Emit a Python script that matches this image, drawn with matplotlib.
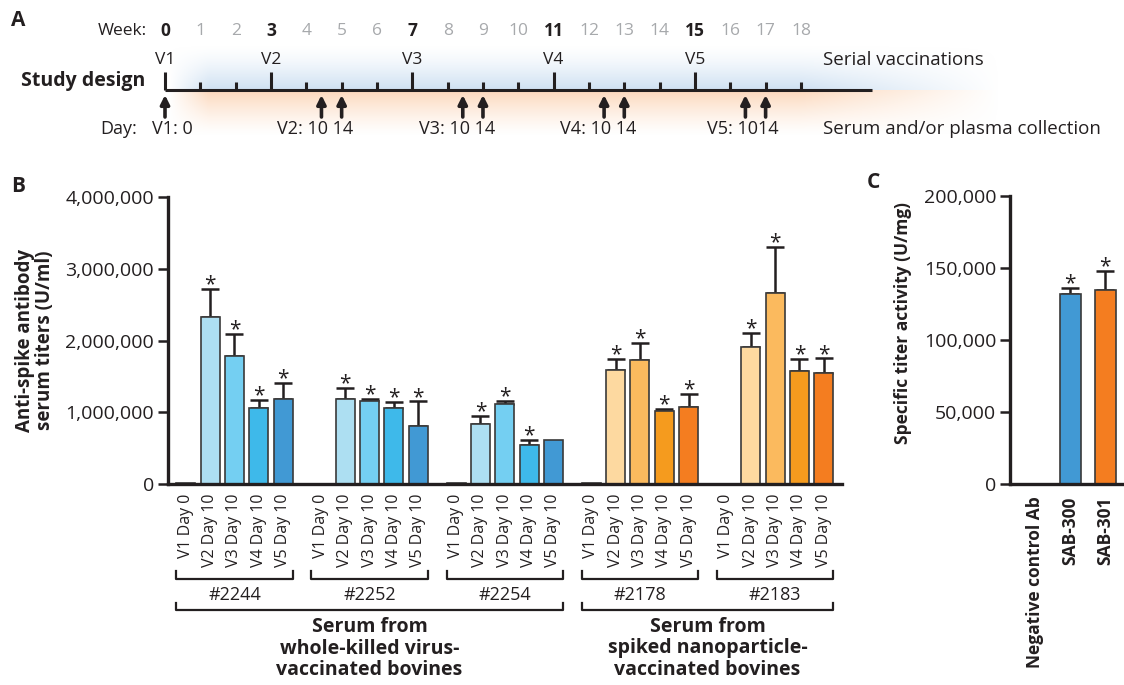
import numpy as np
import matplotlib
matplotlib.use('Agg')
import matplotlib.pyplot as plt
from matplotlib import transforms

# ---- data ----
weeks = list(range(19))
vacc_weeks = [0, 3, 7, 11, 15]
vacc_labels = ['V1', 'V2', 'V3', 'V4', 'V5']
collect_days = [10, 14]

groups = ['#2244', '#2252', '#2254', '#2178', '#2183']
timepoints = ['V1 Day 0', 'V2 Day 10', 'V3 Day 10', 'V4 Day 10', 'V5 Day 10']

titer_2244 = [10000, 2330000, 1790000, 1060000, 1190000]
err_2244 = [0, 390000, 300000, 110000, 220000]
star_2244 = [0, 1, 1, 1, 1]
titer_2252 = [5000, 1190000, 1160000, 1060000, 810000]
err_2252 = [0, 150000, 20000, 80000, 340000]
star_2252 = [0, 1, 1, 1, 1]
titer_2254 = [8000, 840000, 1110000, 540000, 620000]
err_2254 = [0, 110000, 50000, 70000, 0]
star_2254 = [0, 1, 1, 1, 0]
titer_2178 = [12000, 1585000, 1730000, 1020000, 1080000]
err_2178 = [0, 155000, 230000, 30000, 180000]
star_2178 = [0, 1, 1, 1, 1]
titer_2183 = [5000, 1905000, 2660000, 1580000, 1550000]
err_2183 = [0, 205000, 650000, 160000, 200000]
star_2183 = [0, 1, 1, 1, 1]

products = ['Negative control Ab', 'SAB-300', 'SAB-301']
activity = [0, 131800, 134800]
activity_err = [0, 4200, 13200]
activity_star = [0, 1, 1]

blues = ['#ADDFF2', '#ADDFF2', '#74CFF2', '#3EB9EA', '#4199D4']
oranges = ['#FDD9A0', '#FDD9A0', '#FBBA5E', '#F59B1E', '#F47D20']

TXT = '#231F20'
plt.rcParams['font.family'] = ['Open Sans', 'DejaVu Sans']
plt.rcParams['text.color'] = TXT

fig = plt.figure(figsize=(11.24, 6.85), dpi=100)


def fx(px):
    return px / 1124


def fy(py):
    return 1 - py / 685


# ---- panel A: study design ----
wpx = 35.33
ax_a = fig.add_axes([0, fy(150), 1, 150 / 685])
ax_a.axis('off')

# soft coloured bands above / below the timeline
xs = np.linspace(0, 1, 400)
xpx = 165 + xs * (1000 - 165)
hprof = np.clip((xpx - 168) / 40, 0, 1) * np.clip((1000 - xpx) / 200, 0, 1)
vb = np.linspace(0, 1, 100) ** 1.4
vo = (1 - np.linspace(0, 1, 100)) ** 1.3
blue_img = np.zeros((100, 400, 4))
blue_img[..., :3] = (0.81, 0.88, 0.95)
blue_img[..., 3] = vb[:, None] * hprof[None, :]
orange_img = np.zeros((100, 400, 4))
orange_img[..., :3] = (0.99, 0.85, 0.74)
orange_img[..., 3] = vo[:, None] * hprof[None, :]
x_end = (1000 - 165) / wpx
ax_a.imshow(blue_img, extent=(0, x_end, 90, 45), aspect='auto', origin='upper', zorder=0)
ax_a.imshow(orange_img, extent=(0, x_end, 136, 90), aspect='auto', origin='upper', zorder=0)
ax_a.set_xlim(-165 / wpx, (1124 - 165) / wpx)
ax_a.set_ylim(150, 0)

ax_a.plot([0, 20], [90, 90], color=TXT, lw=2.2, solid_capstyle='butt')
for w in weeks:
    top = 72 if w in vacc_weeks else 82
    ax_a.plot([w, w], [top, 90], color=TXT, lw=2.2, solid_capstyle='butt')
    bold = w in vacc_weeks
    ax_a.text(w, 31, str(w), ha='center', va='center', fontsize=12.5,
              fontweight='bold' if bold else 'normal',
              color=TXT if bold else '#A7A9AC')
ax_a.text(-0.5, 31, 'Week:', ha='right', va='center', fontsize=12.5)

for w, lab in zip(vacc_weeks, vacc_labels):
    ax_a.text(w, 60, lab, ha='center', va='center', fontsize=12.5)

ax_a.text(-0.55, 81, 'Study design', ha='right', va='center', fontsize=14, fontweight='bold')
ax_a.text(18.62, 60, 'Serial vaccinations', ha='left', va='center', fontsize=13.5)
ax_a.text(18.62, 129, 'Serum and/or plasma collection', ha='left', va='center', fontsize=13.5)

arrow_weeks = [0]
for w in vacc_weeks[1:]:
    for d in collect_days:
        arrow_weeks.append(w + d / 7)
for aw in arrow_weeks:
    ax_a.annotate('', xy=(aw, 95), xytext=(aw, 117),
                  arrowprops=dict(arrowstyle='-|>', color=TXT, lw=2.6,
                                  mutation_scale=13, shrinkA=0, shrinkB=0))

ax_a.text(-0.8, 129, 'Day:', ha='right', va='center', fontsize=13)
ax_a.text(0.21, 129, 'V1: 0', ha='center', va='center', fontsize=13)
for w, lab in zip(vacc_weeks[1:], vacc_labels[1:]):
    if lab == 'V5':
        s, off = lab + ': 1014', 3
    else:
        s, off = lab + ': 10 14', 6
    ax_a.text(w + 10 / 7 - off / wpx, 129, s, ha='center', va='center', fontsize=13)

fig.text(fx(18), fy(20), 'A', fontsize=15, fontweight='bold', ha='center', va='center')

# ---- panel B: titers ----
ax_b = fig.add_axes([fx(168), fy(484), fx(842 - 168), (484 - 197) / 685])
gap = 5.55
bw = 0.78
all_titers = [titer_2244, titer_2252, titer_2254, titer_2178, titer_2183]
all_errs = [err_2244, err_2252, err_2254, err_2178, err_2183]
all_stars = [star_2244, star_2252, star_2254, star_2178, star_2183]

positions, labels = [], []
for g, name in enumerate(groups):
    xg = g * gap + np.arange(len(timepoints))
    vals = all_titers[g]
    errs = all_errs[g]
    cols = blues if g < 3 else oranges
    ax_b.bar(xg, vals, width=bw, color=cols, edgecolor='#3A3A3A', linewidth=1.2, zorder=2)
    for x, v, e, s in zip(xg, vals, errs, all_stars[g]):
        if e > 0:
            ax_b.errorbar(x, v, yerr=[[0], [e]], fmt='none', ecolor=TXT,
                          elinewidth=1.8, capsize=6.5, capthick=1.8, zorder=1)
        if s:
            ax_b.annotate('*', xy=(x, v + e), xytext=(0, 3), textcoords='offset points',
                          ha='center', va='center', fontsize=15)
    positions.extend(xg)
    labels.extend(timepoints)

ax_b.set_xlim(-0.73, 4 * gap + 4 + 0.75)
ax_b.set_ylim(0, 4000000)
ax_b.set_yticks([0, 1000000, 2000000, 3000000, 4000000])
ax_b.set_yticklabels(['0', '1,000,000', '2,000,000', '3,000,000', '4,000,000'])
ax_b.set_xticks(positions)
ax_b.set_xticklabels(labels, rotation=90, va='top', ha='center', fontsize=11.5)
ax_b.tick_params(axis='x', length=0, pad=7, colors=TXT)
ax_b.tick_params(axis='y', length=7, width=1.8, labelsize=14, colors=TXT, pad=3)
for sp in ['top', 'right']:
    ax_b.spines[sp].set_visible(False)
for sp in ['left', 'bottom']:
    ax_b.spines[sp].set_linewidth(2.4)
    ax_b.spines[sp].set_color(TXT)

trans = transforms.blended_transform_factory(ax_b.transData, ax_b.transAxes)


def yf(py):
    return (484 - py) / 287


def bracket(x0, x1, y_line, y_tick):
    ax_b.plot([x0, x0, x1, x1], [yf(y_tick), yf(y_line), yf(y_line), yf(y_tick)],
              transform=trans, clip_on=False, color=TXT, lw=1.6)


for g, name in enumerate(groups):
    x0 = g * gap - bw / 2
    x1 = g * gap + 4 + bw / 2
    bracket(x0, x1, 579, 571)
    ax_b.text((x0 + x1) / 2, yf(595), name, transform=trans, ha='center', va='center', fontsize=13)

main_groups = [(0, 2, 'Serum from\nwhole-killed virus-\nvaccinated bovines'),
               (3, 4, 'Serum from\nspiked nanoparticle-\nvaccinated bovines')]
for g0, g1, txt in main_groups:
    x0 = g0 * gap - bw / 2
    x1 = g1 * gap + 4 + bw / 2
    bracket(x0, x1, 610, 603)
    ax_b.text((x0 + x1) / 2, yf(617), txt, transform=trans, ha='center', va='top',
              fontsize=14, fontweight='bold', linespacing=1.1)

fig.text(fx(35), fy(340), 'Anti-spike antibody\nserum titers (U/ml)', rotation=90,
         ha='center', va='center', fontsize=13.5, fontweight='bold', linespacing=1.05)
fig.text(fx(18), fy(187), 'B', fontsize=15, fontweight='bold', ha='center', va='center')

# ---- panel C: specific activity ----
ax_c = fig.add_axes([fx(1010), fy(484), fx(1123 - 1010), (484 - 196) / 685])
xc = np.arange(len(products))
ax_c.bar(xc, activity, width=0.6, color=['#FFFFFF', '#4199D4', '#F47D20'],
         edgecolor='#3A3A3A', linewidth=1.2, zorder=2)
for x, v, e, s in zip(xc, activity, activity_err, activity_star):
    if e > 0:
        ax_c.errorbar(x, v, yerr=[[0], [e]], fmt='none', ecolor=TXT,
                      elinewidth=1.8, capsize=6.5, capthick=1.8, zorder=1)
    if s:
        ax_c.annotate('*', xy=(x, v + e), xytext=(0, 3), textcoords='offset points',
                      ha='center', va='center', fontsize=15)
ax_c.set_xlim(-0.714, 2.51)
ax_c.set_ylim(0, 200000)
ax_c.set_yticks([0, 50000, 100000, 150000, 200000])
ax_c.set_yticklabels(['0', '50,000', '100,000', '150,000', '200,000'])
ax_c.set_xticks(xc)
ax_c.set_xticklabels(products, rotation=90, va='top', ha='center', fontsize=12.5, fontweight='bold')
ax_c.tick_params(axis='x', length=0, pad=9, colors=TXT)
ax_c.tick_params(axis='y', length=7, width=1.8, labelsize=14, colors=TXT, pad=3)
for sp in ['top', 'right']:
    ax_c.spines[sp].set_visible(False)
for sp in ['left', 'bottom']:
    ax_c.spines[sp].set_linewidth(2.4)
    ax_c.spines[sp].set_color(TXT)

fig.text(fx(903), fy(323), 'Specific titer activity (U/mg)', rotation=90,
         ha='center', va='center', fontsize=12.5, fontweight='bold')
fig.text(fx(873), fy(183), 'C', fontsize=15, fontweight='bold', ha='center', va='center')

fig.savefig('out.png', dpi=100)
